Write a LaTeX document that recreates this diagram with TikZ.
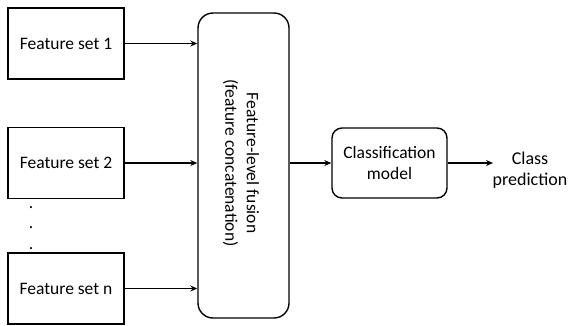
\documentclass[tikz,border=0pt]{standalone}
\usepackage{fontspec}
\setmainfont{Carlito}
\usetikzlibrary{arrows.meta}
\begin{document}
\begin{tikzpicture}[x=1pt,y=-1pt,
  fbox/.style={draw,line width=1.4pt,minimum width=116pt,minimum height=71pt,inner sep=0pt,font=\fontsize{17.5}{21}\selectfont},
  arr/.style={line width=1.3pt,-{Stealth[length=7pt,width=6pt]}},
  lbl/.style={font=\fontsize{17.5}{21.5}\selectfont,align=center},
  dot/.style={font=\fontsize{17.5}{21}\selectfont,inner sep=0pt}]
\useasboundingbox (0,0) rectangle (569,325);
\node[fbox] (f1) at (66,43.5) {Feature set 1};
\node[fbox] (f2) at (66,163) {Feature set 2};
\node[fbox] (fn) at (66,288.5) {Feature set n};
\node[draw,line width=1.4pt,rounded corners=15pt,minimum width=91pt,minimum height=305pt,inner sep=0pt] (fus) at (243.5,165.5) {};
\node[lbl,rotate=-90] (fust) at (241,163) {Feature-level fusion\\(feature concatenation)};
\node[draw,line width=1.4pt,rounded corners=10pt,minimum width=115pt,minimum height=70pt,inner sep=0pt,lbl] (cls) at (389.5,163) {Classification\\model};
\node[font=\fontsize{18}{21.5}\selectfont,align=center,inner sep=1pt] (pred) at (530,170) {Class\\prediction};
\node[dot] (d1) at (31,208) {.};
\node[dot] (d2) at (31,228) {.};
\node[dot] (d3) at (31,249) {.};
\draw[arr] (f1.east) -- (fus.west |- f1.east);
\draw[arr] (f2.east) -- (fus.west |- f2.east);
\draw[arr] (fn.east) -- (fus.west |- fn.east);
\draw[arr] (fus.east |- cls.west) -- (cls.west);
\coordinate (pe) at (493,163);
\draw[arr] (cls.east) -- (pe);
\end{tikzpicture}
\end{document}
